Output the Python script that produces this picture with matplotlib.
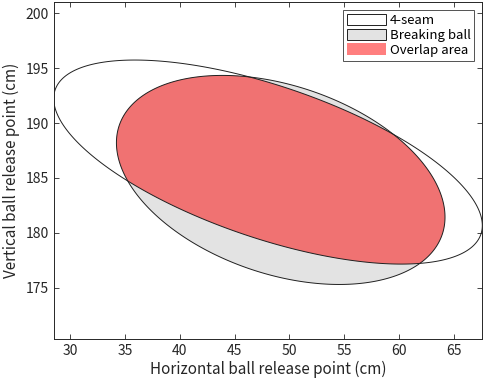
import numpy as np
import matplotlib
matplotlib.use("Agg")
import matplotlib.pyplot as plt
from matplotlib.patches import Polygon, Patch

plt.rcParams['font.family'] = ['Noto Sans CJK JP', 'DejaVu Sans']

# Ellipse definitions (centre and covariance-like shape matrix)
fourseam_center = [48.05, 186.45]
fourseam_shape = [[382.0, -113.0], [-113.0, 86.5]]
breaking_center = [49.21, 184.82]
breaking_shape = [[224.5, -50.8], [-50.8, 90.8]]

labels = ["4-seam", "Breaking ball", "Overlap area"]
x_ticks = [30, 35, 40, 45, 50, 55, 60, 65]
y_ticks = [175, 180, 185, 190, 195, 200]


def ellipse_points(center, shape, n=500):
    t = np.linspace(0, 2 * np.pi, n)
    circ = np.vstack([np.cos(t), np.sin(t)])
    L = np.linalg.cholesky(np.array(shape))
    pts = L @ circ
    return np.column_stack([pts[0] + center[0], pts[1] + center[1]])


fig = plt.figure(figsize=(4.86, 3.82), dpi=100)
ax = fig.add_axes([0.1105, 0.112, 0.8819, 0.883])

axcol = '#262626'
p4 = ellipse_points(fourseam_center, fourseam_shape)
pb = ellipse_points(breaking_center, breaking_shape)

ax.add_patch(Polygon(p4, closed=True, facecolor='white', edgecolor='none', zorder=1))
ax.add_patch(Polygon(pb, closed=True, facecolor='#e3e3e3', edgecolor='none', zorder=2))
clip = Polygon(p4, closed=True, transform=ax.transData)
red = Polygon(pb, closed=True, facecolor='#f07272', edgecolor='none', zorder=3)
ax.add_patch(red)
red.set_clip_path(clip)
ax.add_patch(Polygon(p4, closed=True, facecolor='none', edgecolor='#202020', lw=0.7, zorder=4))
ax.add_patch(Polygon(pb, closed=True, facecolor='none', edgecolor='#202020', lw=0.7, zorder=4))

ax.set_xlim(p4[:, 0].min(), p4[:, 0].max())
ax.set_ylim(170.3, 201.05)
ax.set_xticks(x_ticks)
ax.set_yticks(y_ticks)
ax.tick_params(direction='in', top=True, right=True, length=3.5, width=0.6,
               colors=axcol, labelsize=10, labelcolor=axcol)
for s in ax.spines.values():
    s.set_color(axcol)
    s.set_linewidth(0.7)
    s.set_zorder(5)

ax.set_xlabel("Horizontal ball release point (cm)", fontsize=11, color=axcol, labelpad=2)
ax.set_ylabel("Vertical ball release point (cm)", fontsize=11, color=axcol, labelpad=4)

handles = [Patch(facecolor='white', edgecolor='#202020', lw=0.7),
           Patch(facecolor='#e3e3e3', edgecolor='#202020', lw=0.7),
           Patch(facecolor='#ff7f7f', edgecolor='none')]
leg = ax.legend(handles, labels, loc='upper right', fontsize=9.5, frameon=True, fancybox=False,
                edgecolor=axcol, handlelength=2.9, handleheight=0.95, handletextpad=0.3,
                labelspacing=0.12, borderpad=0.3, borderaxespad=0.6)
leg.get_frame().set_linewidth(0.7)
leg.set_zorder(6)

fig.savefig("out.png", dpi=100)
